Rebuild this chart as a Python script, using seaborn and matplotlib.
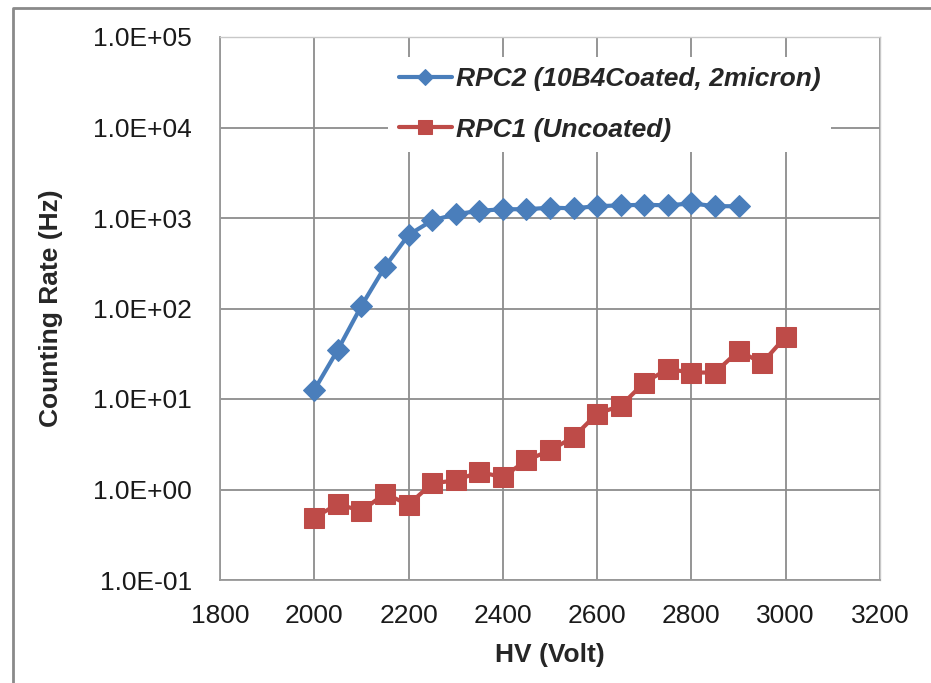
import numpy as np
import pandas as pd
import seaborn as sns
import matplotlib.pyplot as plt
from matplotlib.lines import Line2D
from matplotlib.ticker import FuncFormatter, MultipleLocator, LogLocator, NullFormatter

# counting rate vs high voltage
hv_rpc2 = [2000, 2050, 2100, 2150, 2200, 2250, 2300, 2350, 2400, 2450,
           2500, 2550, 2600, 2650, 2700, 2750, 2800, 2850, 2900]
rate_rpc2 = [12.6, 35, 107, 290, 650, 940, 1100, 1200, 1250, 1250,
             1300, 1280, 1350, 1380, 1400, 1380, 1450, 1350, 1350]

hv_rpc1 = [2000, 2050, 2100, 2150, 2200, 2250, 2300, 2350, 2400, 2450,
           2500, 2550, 2600, 2650, 2700, 2750, 2800, 2850, 2900, 2950, 3000]
rate_rpc1 = [0.49, 0.69, 0.58, 0.9, 0.68, 1.17, 1.26, 1.56, 1.37, 2.1,
             2.7, 3.8, 6.9, 8.4, 15.2, 21.4, 19.6, 19.6, 34, 25, 49]

label_rpc2 = 'RPC2 (10B4Coated, 2micron)'
label_rpc1 = 'RPC1 (Uncoated)'

blue = '#4A7EBB'
red = '#BE4B48'
grid_col = '#8C8C8C'

sns.set_style('white')
plt.rcParams['font.family'] = ['Liberation Sans', 'DejaVu Sans']

fig = plt.figure(figsize=(9.31, 6.83), dpi=100)
ax = fig.add_axes([220 / 931, 1 - 580 / 683, 660 / 931, 543 / 683])
ax.set_yscale('log')

sns.lineplot(x=hv_rpc2, y=rate_rpc2, ax=ax, color=blue, linewidth=3,
             marker='D', markersize=11.5, markeredgecolor=blue, label=label_rpc2, zorder=4)
sns.lineplot(x=hv_rpc1, y=rate_rpc1, ax=ax, color=red, linewidth=3,
             marker='s', markersize=14, markeredgecolor=red, label=label_rpc1, zorder=3)

ax.set_xlim(1800, 3200)
ax.set_ylim(0.1, 1e5)
ax.xaxis.set_major_locator(MultipleLocator(200))
ax.xaxis.set_minor_locator(MultipleLocator(50))
ax.yaxis.set_major_locator(LogLocator(base=10, numticks=10))
ax.yaxis.set_minor_locator(LogLocator(base=10, subs=np.arange(2, 10), numticks=20))
ax.yaxis.set_minor_formatter(NullFormatter())
ax.yaxis.set_major_formatter(FuncFormatter(lambda v, p: f'{v:.1E}'))

ax.grid(True, which='major', color=grid_col, linewidth=1.3)
ax.set_axisbelow(True)
ax.tick_params(which='major', length=0, labelsize=19, pad=17, colors='#1A1A1A')
ax.tick_params(axis='y', which='major', pad=20)
ax.tick_params(which='minor', direction='in', length=5, width=1, color=grid_col)

for side in ['left', 'bottom']:
    ax.spines[side].set_color('#999999')
    ax.spines[side].set_linewidth(1.3)
for side in ['top', 'right']:
    ax.spines[side].set_color('#C8C8C8')
    ax.spines[side].set_linewidth(1.0)

ax.set_xlabel('HV (Volt)', fontsize=19, fontweight='bold', labelpad=11)
ax.set_ylabel('Counting Rate (Hz)', fontsize=19, fontweight='bold', labelpad=22)

leg = ax.legend(loc='upper left', bbox_to_anchor=(0.235, 0.988), frameon=True,
                fancybox=False, edgecolor='none', facecolor='white', framealpha=1,
                prop={'size': 19, 'weight': 'bold', 'style': 'italic'},
                handlelength=2.0, handletextpad=0.15, labelspacing=1.0,
                markerscale=0.75, borderpad=0.4)

# chart-area border (left and top only, cut off like the reference)
bx = 13 / 931
by = 1 - 8 / 683
fig.add_artist(Line2D([bx, bx, 1], [0, by, by], transform=fig.transFigure,
                      color='#8A8A8A', linewidth=2))

fig.savefig('out.png', dpi=100)
